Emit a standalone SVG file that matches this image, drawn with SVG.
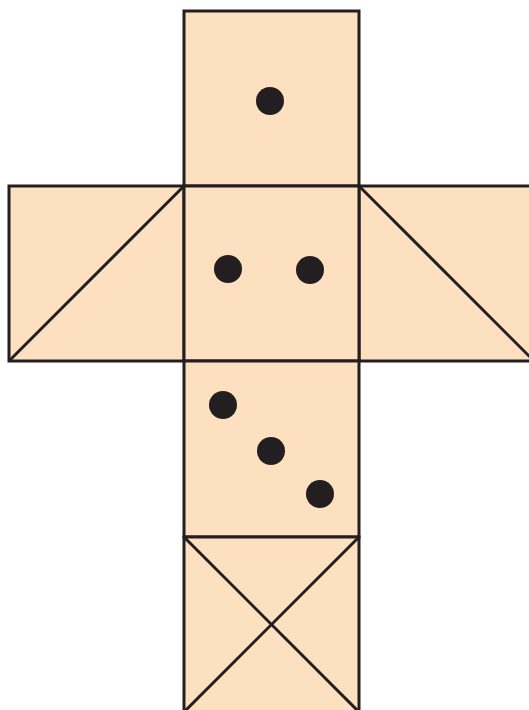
<svg xmlns="http://www.w3.org/2000/svg" width="529" height="710" viewBox="0 0 529 710">
<style>
.face{fill:#fde0bf;stroke:#231f20;stroke-width:3}
.ln{stroke:#231f20;stroke-width:3;fill:none}
.dot{fill:#231f20}
</style>
<rect width="529" height="710" fill="#ffffff"/>
<g id="face-top"><rect class="face" x="184" y="11" width="175" height="175"/><circle class="dot" cx="270" cy="101" r="14"/></g>
<g id="face-left"><rect class="face" x="9" y="186" width="175" height="175"/><line class="ln" x1="9" y1="361" x2="184" y2="186"/></g>
<g id="face-right"><rect class="face" x="359" y="186" width="175" height="175"/><line class="ln" x1="359" y1="186" x2="534" y2="361"/></g>
<g id="face-center"><rect class="face" x="184" y="186" width="175" height="175"/><circle class="dot" cx="228" cy="269" r="14"/><circle class="dot" cx="310" cy="270" r="14"/></g>
<g id="face-three"><rect class="face" x="184" y="361" width="175" height="176"/><circle class="dot" cx="223" cy="405" r="14"/><circle class="dot" cx="271" cy="451" r="14"/><circle class="dot" cx="320" cy="494" r="14"/></g>
<g id="face-bottom"><rect class="face" x="184" y="537" width="175" height="175"/><line class="ln" x1="184" y1="537" x2="359" y2="712"/><line class="ln" x1="359" y1="537" x2="184" y2="712"/></g>
</svg>
